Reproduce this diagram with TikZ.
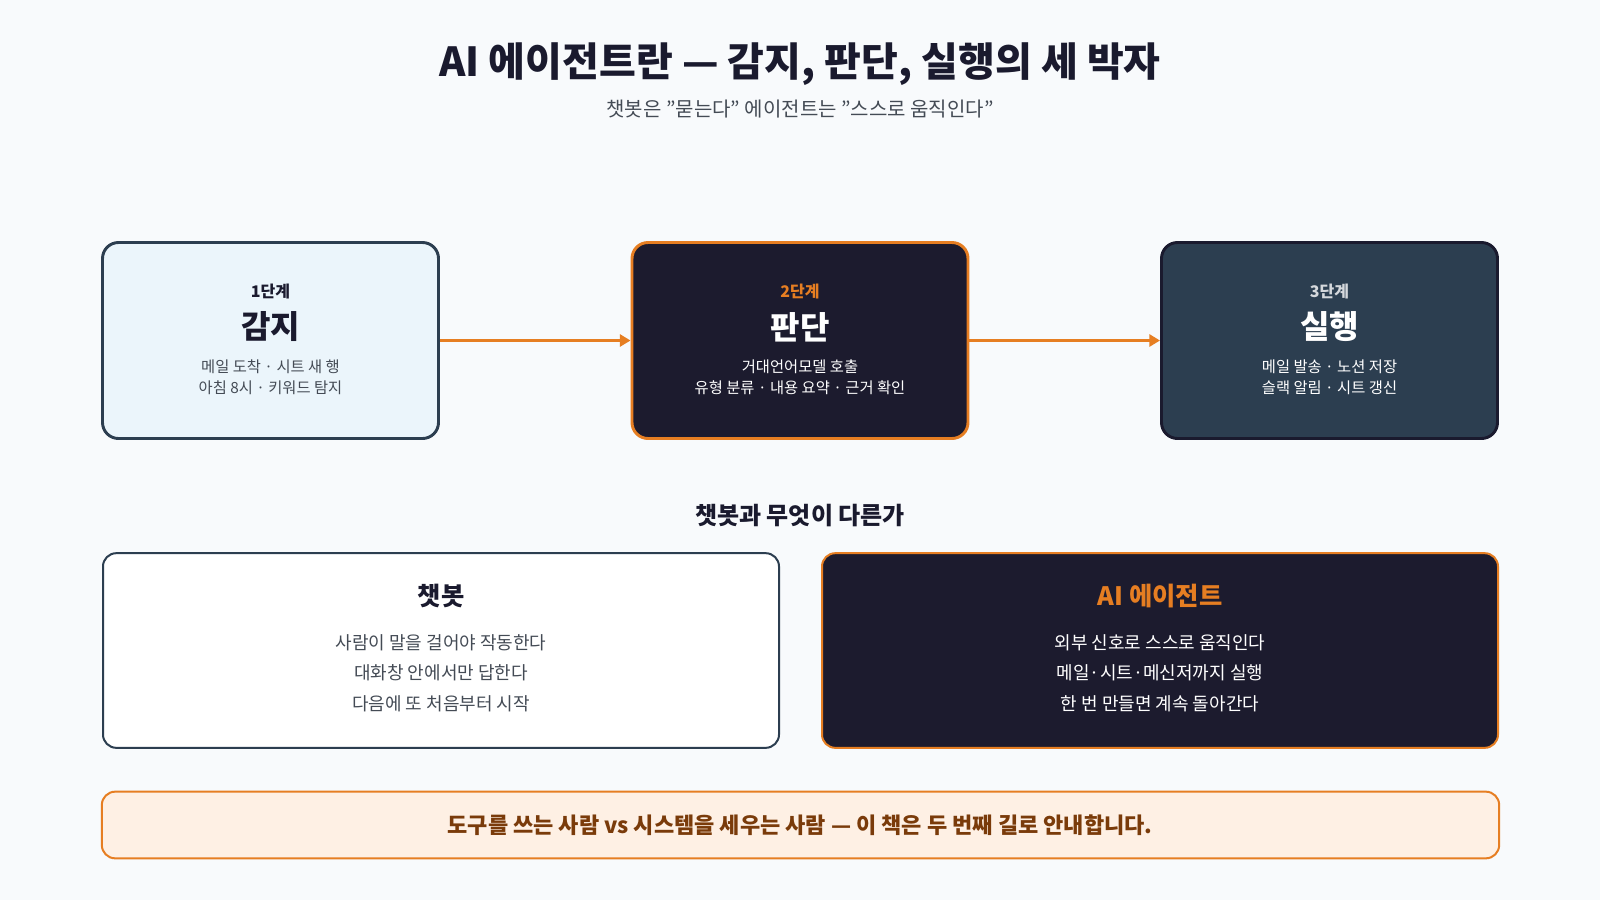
\documentclass[tikz,border=0pt]{standalone}
\usepackage{fontspec}
\setmainfont{Noto Sans CJK KR}
\usetikzlibrary{arrows.meta}
\definecolor{bg}{HTML}{F8FAFC}
\definecolor{navy}{HTML}{2C3E50}
\definecolor{dark}{HTML}{1C1B2E}
\definecolor{org}{HTML}{E67E22}
\definecolor{lblue}{HTML}{EBF5FB}
\definecolor{ink}{HTML}{1A1A2E}
\definecolor{grey}{HTML}{444B55}
\definecolor{cream}{HTML}{FEF0E4}
\definecolor{brown}{HTML}{7A3B0A}
\begin{document}
\begin{tikzpicture}[x=0.75pt,y=-0.75pt,
  box/.style={draw,rounded corners=12pt,line width=2.2pt,minimum width=252pt,minimum height=147pt},
  cmp/.style={draw,rounded corners=10pt,line width=1.5pt,minimum width=507pt,minimum height=146pt},
  flow/.style={draw=org,line width=2.2pt,-{Triangle[length=8pt,width=9pt]}},
  stg/.style={font=\bfseries\fontsize{12}{14}\selectfont},
  big/.style={font=\bfseries\fontsize{24}{28}\selectfont},
  sub/.style={font=\fontsize{11.5}{16}\selectfont,align=center},
  ln/.style={font=\fontsize{13.5}{17}\selectfont}]
\fill[bg] (0,0) rectangle (1600,900);
\node[font=\bfseries\fontsize{30}{34}\selectfont,text=ink] (t) at (800,64) {AI 에이전트란 — 감지, 판단, 실행의 세 박자};
\node[font=\fontsize{15}{18}\selectfont,text=grey] (st) at (800,109) {챗봇은 "묻는다" 에이전트는 "스스로 움직인다"};
% stage boxes
\node[box,draw=navy,fill=lblue] (b1) at (270.5,340.5) {};
\node[box,draw=org,fill=dark] (b2) at (800,340.5) {};
\node[box,draw=ink,fill=navy] (b3) at (1329.5,340.5) {};
\node[stg,text=ink] (s1) at (270.5,291) {1단계};
\node[big,text=ink] (m1) at (270.5,327) {감지};
\node[sub,text=grey] (d1) at (270.5,377) {메일 도착 · 시트 새 행\\아침 8시 · 키워드 탐지};
\node[stg,text=org] (s2) at (800,291) {2단계};
\node[big,text=white] (m2) at (800,327) {판단};
\node[sub,text=white] (d2) at (800,377) {거대언어모델 호출\\유형 분류 · 내용 요약 · 근거 확인};
\node[stg,text=white!80!navy] (s3) at (1329.5,291) {3단계};
\node[big,text=white] (m3) at (1329.5,327) {실행};
\node[sub,text=white] (d3) at (1329.5,377) {메일 발송 · 노션 저장\\슬랙 알림 · 시트 갱신};
\draw[flow] (b1.east) -- (b2.west);
\draw[flow] (b2.east) -- (b3.west);
% comparison
\node[font=\bfseries\fontsize{18}{22}\selectfont,text=ink] (h) at (800,516) {챗봇과 무엇이 다른가};
\node[cmp,draw=navy,fill=white] (c1) at (441,650.5) {};
\node[cmp,draw=org,fill=dark] (c2) at (1160,650.5) {};
\node[font=\bfseries\fontsize{19}{22}\selectfont,text=ink] (c1t) at (441,596) {챗봇};
\node[ln,text=grey] (c1a) at (441,643) {사람이 말을 걸어야 작동한다};
\node[ln,text=grey] (c1b) at (441,673) {대화창 안에서만 답한다};
\node[ln,text=grey] (c1c) at (441,704) {다음에 또 처음부터 시작};
\node[font=\bfseries\fontsize{19}{22}\selectfont,text=org] (c2t) at (1160,596) {AI 에이전트};
\node[ln,text=white] (c2a) at (1160,643) {외부 신호로 스스로 움직인다};
\node[ln,text=white] (c2b) at (1160,673) {메일·시트·메신저까지 실행};
\node[ln,text=white] (c2c) at (1160,704) {한 번 만들면 계속 돌아간다};
% banner
\node[draw=org,fill=cream,line width=1.5pt,rounded corners=10pt,minimum width=1048pt,minimum height=50pt] (bn) at (800.5,825) {};
\node[font=\bfseries\fontsize{16.5}{20}\selectfont,text=brown] (bt) at (800,825) {도구를 쓰는 사람 vs 시스템을 세우는 사람 — 이 책은 두 번째 길로 안내합니다.};
\end{tikzpicture}
\end{document}
